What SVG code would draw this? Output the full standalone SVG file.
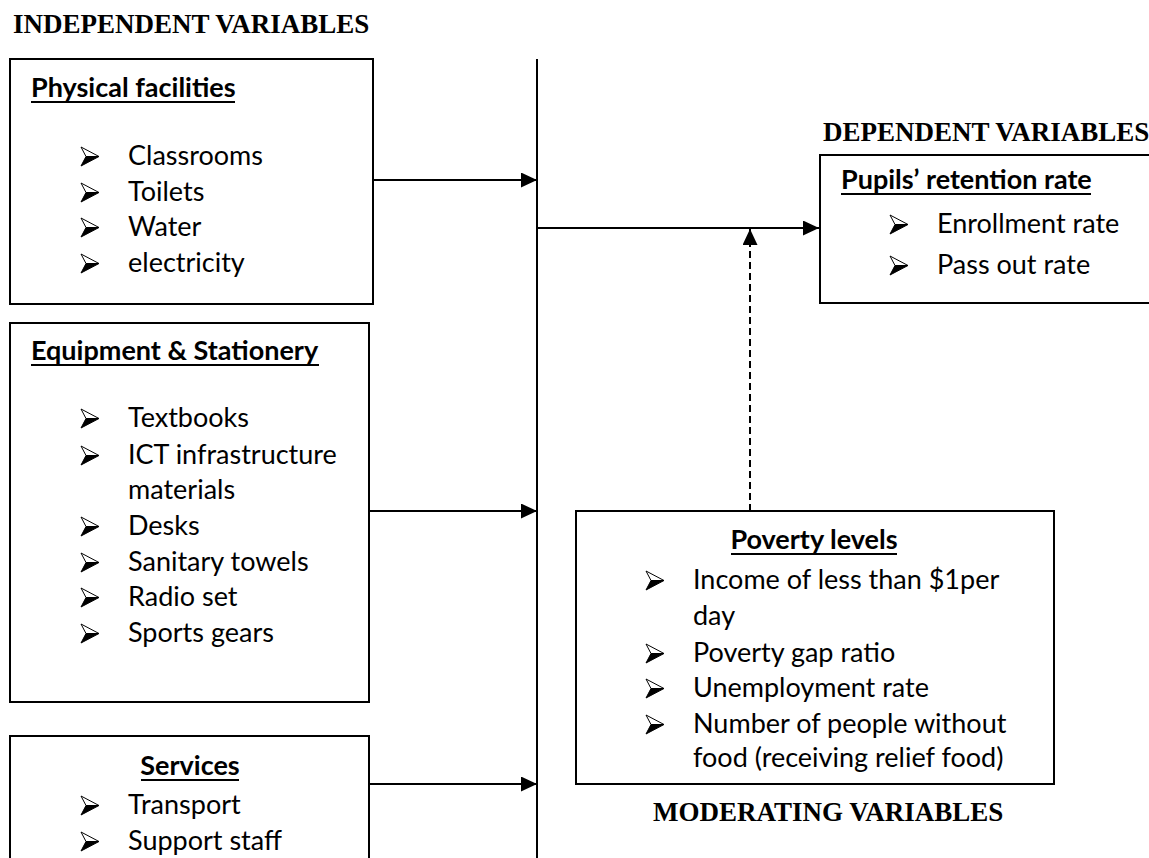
<svg xmlns="http://www.w3.org/2000/svg" xmlns:xlink="http://www.w3.org/1999/xlink" width="1149" height="858" viewBox="0 0 1149 858">
<style>
.title{font-family:"Liberation Serif","Times New Roman",serif;font-weight:bold;font-size:27px;fill:#000}
.body{font-family:Lato,"Open Sans","Liberation Sans",sans-serif;font-size:27px;fill:#000}
.head{font-family:Lato,"Open Sans","Liberation Sans",sans-serif;font-size:27px;font-weight:bold;fill:#000}
.box{fill:#fff;stroke:#000;stroke-width:2}
.ul{stroke:#000;stroke-width:2}
.conn{stroke:#000;stroke-width:2;fill:none}
</style>
<defs>
<marker id="ah" markerUnits="userSpaceOnUse" markerWidth="16" markerHeight="15" refX="16" refY="7.5" orient="auto">
<path d="M0,0 L16,7.5 L0,15 Z" fill="#000"/>
</marker>
<g id="bul">
<path d="M0,0 L18,9.5 L5,9.5 Z" fill="#fff" stroke="#000" stroke-width="1"/>
<path d="M5,9.5 L18,9.5 L0,19 Z" fill="#000" stroke="#000" stroke-width="1"/>
</g>
</defs>
<rect width="1149" height="858" fill="#fff"/>

<text class="title" x="13" y="33">INDEPENDENT VARIABLES</text>
<text class="title" x="823" y="141">DEPENDENT VARIABLES</text>
<text class="title" x="653" y="821">MODERATING VARIABLES</text>

<g id="connectors">
<line class="conn" x1="537" y1="59" x2="537" y2="858"/>
<line class="conn" x1="373" y1="180" x2="537" y2="180" marker-end="url(#ah)"/>
<line class="conn" x1="370" y1="511" x2="537" y2="511" marker-end="url(#ah)"/>
<line class="conn" x1="370" y1="784" x2="537" y2="784" marker-end="url(#ah)"/>
<line class="conn" x1="537" y1="228" x2="819" y2="228" marker-end="url(#ah)"/>
<line class="conn" x1="750" y1="511" x2="750" y2="229" stroke-dasharray="7 4" marker-end="url(#ah)"/>
</g>

<g id="physical-facilities">
<rect class="box" x="10" y="59" width="363" height="245"/>
<text class="head" x="31" y="97">Physical facilities</text>
<line class="ul" x1="31" y1="102" x2="235" y2="102"/>
<use xlink:href="#bul" x="81" y="147"/><text class="body" x="128" y="165">Classrooms</text>
<use xlink:href="#bul" x="81" y="183"/><text class="body" x="128" y="201">Toilets</text>
<use xlink:href="#bul" x="81" y="218"/><text class="body" x="128" y="236">Water</text>
<use xlink:href="#bul" x="81" y="254"/><text class="body" x="128" y="272">electricity</text>
</g>

<g id="equipment-stationery">
<rect class="box" x="10" y="323" width="359" height="379"/>
<text class="head" x="31" y="360">Equipment &amp; Stationery</text>
<line class="ul" x1="31" y1="365" x2="319" y2="365"/>
<use xlink:href="#bul" x="81" y="409"/><text class="body" x="128" y="427">Textbooks</text>
<use xlink:href="#bul" x="81" y="446"/><text class="body" x="128" y="464">ICT infrastructure</text>
<text class="body" x="128" y="499">materials</text>
<use xlink:href="#bul" x="81" y="517"/><text class="body" x="128" y="535">Desks</text>
<use xlink:href="#bul" x="81" y="553"/><text class="body" x="128" y="571">Sanitary towels</text>
<use xlink:href="#bul" x="81" y="588"/><text class="body" x="128" y="606">Radio set</text>
<use xlink:href="#bul" x="81" y="624"/><text class="body" x="128" y="642">Sports gears</text>
</g>

<g id="services">
<rect class="box" x="10" y="736" width="359" height="140"/>
<text class="head" x="190" y="775" text-anchor="middle">Services</text>
<line class="ul" x1="141" y1="780" x2="239" y2="780"/>
<use xlink:href="#bul" x="81" y="796"/><text class="body" x="128" y="814">Transport</text>
<use xlink:href="#bul" x="81" y="832"/><text class="body" x="128" y="850">Support staff</text>
</g>

<g id="pupils-retention-rate">
<rect class="box" x="820" y="155" width="340" height="148"/>
<text class="head" x="841" y="189">Pupils’ retention rate</text>
<line class="ul" x1="841" y1="194" x2="1091" y2="194"/>
<use xlink:href="#bul" x="890" y="215"/><text class="body" x="937" y="233">Enrollment rate</text>
<use xlink:href="#bul" x="890" y="256"/><text class="body" x="937" y="274">Pass out rate</text>
</g>

<g id="poverty-levels">
<rect class="box" x="576" y="511" width="478" height="273"/>
<text class="head" x="814" y="549" text-anchor="middle">Poverty levels</text>
<line class="ul" x1="731" y1="554" x2="897" y2="554"/>
<use xlink:href="#bul" x="646" y="571"/><text class="body" x="693" y="589">Income of less than $1per</text>
<text class="body" x="693" y="625">day</text>
<use xlink:href="#bul" x="646" y="644"/><text class="body" x="693" y="662">Poverty gap ratio</text>
<use xlink:href="#bul" x="646" y="679"/><text class="body" x="693" y="697">Unemployment rate</text>
<use xlink:href="#bul" x="646" y="715"/><text class="body" x="693" y="733">Number of people without</text>
<text class="body" x="693" y="767">food (receiving relief food)</text>
</g>
</svg>
